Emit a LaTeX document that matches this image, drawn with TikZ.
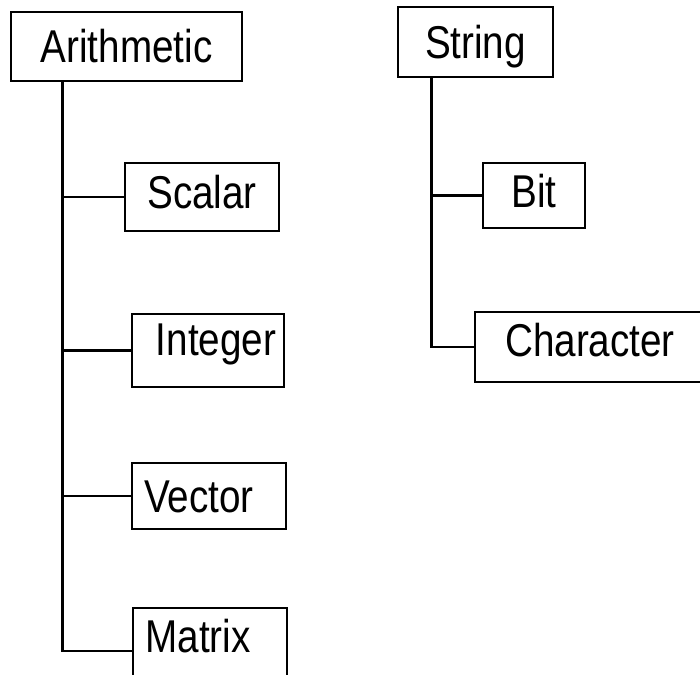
\documentclass[tikz,border=0pt]{standalone}
\usepackage{fontspec}
\setmainfont{Liberation Sans}[FakeStretch=0.84]
\usetikzlibrary{calc}
\begin{document}
\begin{tikzpicture}[x=1pt, y=-1pt,
  typebox/.style={draw, rectangle, line width=2.8pt, inner sep=0pt,
    font=\fontsize{46}{46}\selectfont, text height=33pt, text depth=0pt},
  wire/.style={line width=2.8pt}]
  \useasboundingbox (0,0) rectangle (700,674);
  \clip (0,0) rectangle (700,674);

  % arithmetic family
  \node[typebox, minimum width=231pt, minimum height=69pt] (arith) at (126.5,46.5) {Arithmetic};
  \node[typebox, minimum width=154pt, minimum height=68pt, text depth=10pt] (scalar) at (202,197) {Scalar};
  \node[typebox, minimum width=152pt, minimum height=73pt, text depth=24pt] (integer) at (208,350.5) {\hspace*{16pt}Integer};
  \node[typebox, minimum width=154pt, minimum height=66pt] (vector) at (209,496) {Vector\hspace*{20pt}};
  \node[typebox, minimum width=154pt, minimum height=86pt, text depth=30pt] (matrix) at (210,651) {Matrix\hspace*{24pt}};

  % string family
  \node[typebox, minimum width=155pt, minimum height=70pt] (string) at (475.5,42) {String};
  \node[typebox, minimum width=102pt, minimum height=65pt, text depth=9pt] (bit) at (534,195.5) {Bit};
  \node[typebox, minimum width=245pt, minimum height=70pt, text depth=14pt] (character) at (597.5,347) {Character\hspace*{15pt}};

  % tree connectors
  \draw[wire] ($(arith.south west)+(53,0)$) coordinate (atrunk) |- (matrix.west);
  \foreach \n in {scalar,integer,vector}
    \draw[wire] (atrunk |- \n.west) -- (\n.west);

  \draw[wire] ($(string.south west)+(35,0)$) coordinate (strunk) |- (character.west);
  \draw[wire] (strunk |- bit.west) -- (bit.west);
\end{tikzpicture}
\end{document}
